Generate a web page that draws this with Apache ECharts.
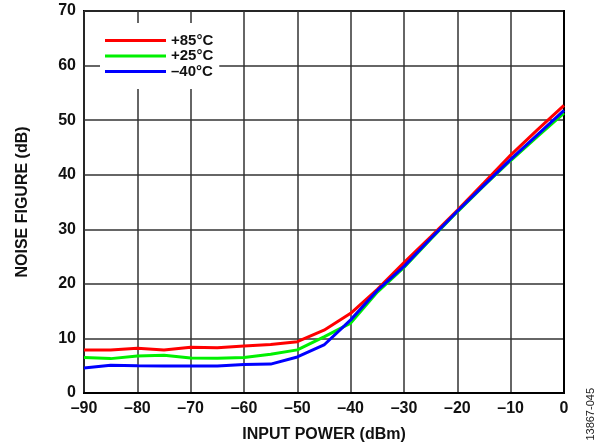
<!DOCTYPE html>
<html>
<head>
<meta charset="utf-8">
<script src="https://cdn.jsdelivr.net/npm/echarts@6/dist/echarts.min.js"></script>
<style>html,body{margin:0;padding:0;background:#fff}#c{width:600px;height:445px}</style>
</head>
<body>
<div id="c"></div>
<script>
const inputPower = [-90,-85,-80,-75,-70,-65,-60,-55,-50,-45,-40,-35,-30,-25,-20,-15,-10,-5,0];
const nf85 = [7.9,7.9,8.2,7.9,8.4,8.3,8.6,8.9,9.4,11.5,14.6,19.0,23.9,28.6,33.5,38.5,43.6,48.2,52.7];
const nf25 = [6.5,6.3,6.8,6.9,6.4,6.35,6.5,7.1,7.9,10.3,12.8,18.5,23.0,28.2,33.2,38.0,42.6,47.0,51.3];
const nfm40 = [4.6,5.1,5.0,4.95,4.95,4.95,5.2,5.3,6.6,8.8,13.4,18.8,23.2,28.3,33.3,38.1,42.8,47.3,51.8];
const seriesNames = ['+85°C','+25°C','–40°C'];
const seriesColors = ['#ff0000','#00f000','#0000ff'];

const pair = ys => inputPower.map((x,i)=>[x, ys[i]]);
const font = '"Liberation Sans", Arial, sans-serif';
const chart = echarts.init(document.getElementById('c'), null, {renderer:'canvas'});
const dash = v => String(v).replace('-', '–');
chart.setOption({
  animation:false,
  backgroundColor:'#fff',
  grid:{left:84,right:36,top:11,bottom:52,show:true,borderColor:'#000',borderWidth:2,backgroundColor:'transparent',
        containLabel:false,outerBoundsMode:'none'},
  legend:{
    data:seriesNames, orient:'vertical', left:100, top:23,
    padding:[10,6,10,5], itemGap:0.5, itemWidth:61, itemHeight:3, icon:'rect',
    backgroundColor:'#fff',
    textStyle:{fontFamily:font,fontWeight:'bold',fontSize:15,color:'#111',lineHeight:15}
  },
  xAxis:{
    type:'value', min:-90, max:0, interval:10,
    name:'INPUT POWER (dBm)', nameLocation:'middle', nameGap:34,
    nameTextStyle:{fontFamily:font,fontWeight:'bold',fontSize:16,color:'#111'},
    axisLine:{show:true,lineStyle:{color:'#000',width:2}},
    axisTick:{show:false},
    axisLabel:{fontFamily:font,fontWeight:'bold',fontSize:16,color:'#111',margin:8,formatter:dash},
    splitLine:{show:true,lineStyle:{color:'#333',width:1.5}}
  },
  yAxis:{
    type:'value', min:0, max:70, interval:10,
    name:'NOISE FIGURE (dB)', nameLocation:'middle', nameGap:53,
    nameTextStyle:{fontFamily:font,fontWeight:'bold',fontSize:16,color:'#111'},
    axisLine:{show:true,lineStyle:{color:'#000',width:2}},
    axisTick:{show:false},
    axisLabel:{fontFamily:font,fontWeight:'bold',fontSize:16,color:'#111',margin:8},
    splitLine:{show:true,lineStyle:{color:'#333',width:1.5}}
  },
  graphic:[{
    type:'text', left:585, top:388, rotation:Math.PI/2,
    style:{text:'13867-045',fontFamily:font,fontSize:11,fill:'#222'}
  }],
  series:[nf85,nf25,nfm40].map((d,i)=>({
    name:seriesNames[i], type:'line', data:pair(d), showSymbol:false, symbol:'none',
    lineStyle:{color:seriesColors[i],width:3}, itemStyle:{color:seriesColors[i]}, z:2+i
  }))
});
</script>
</body>
</html>
